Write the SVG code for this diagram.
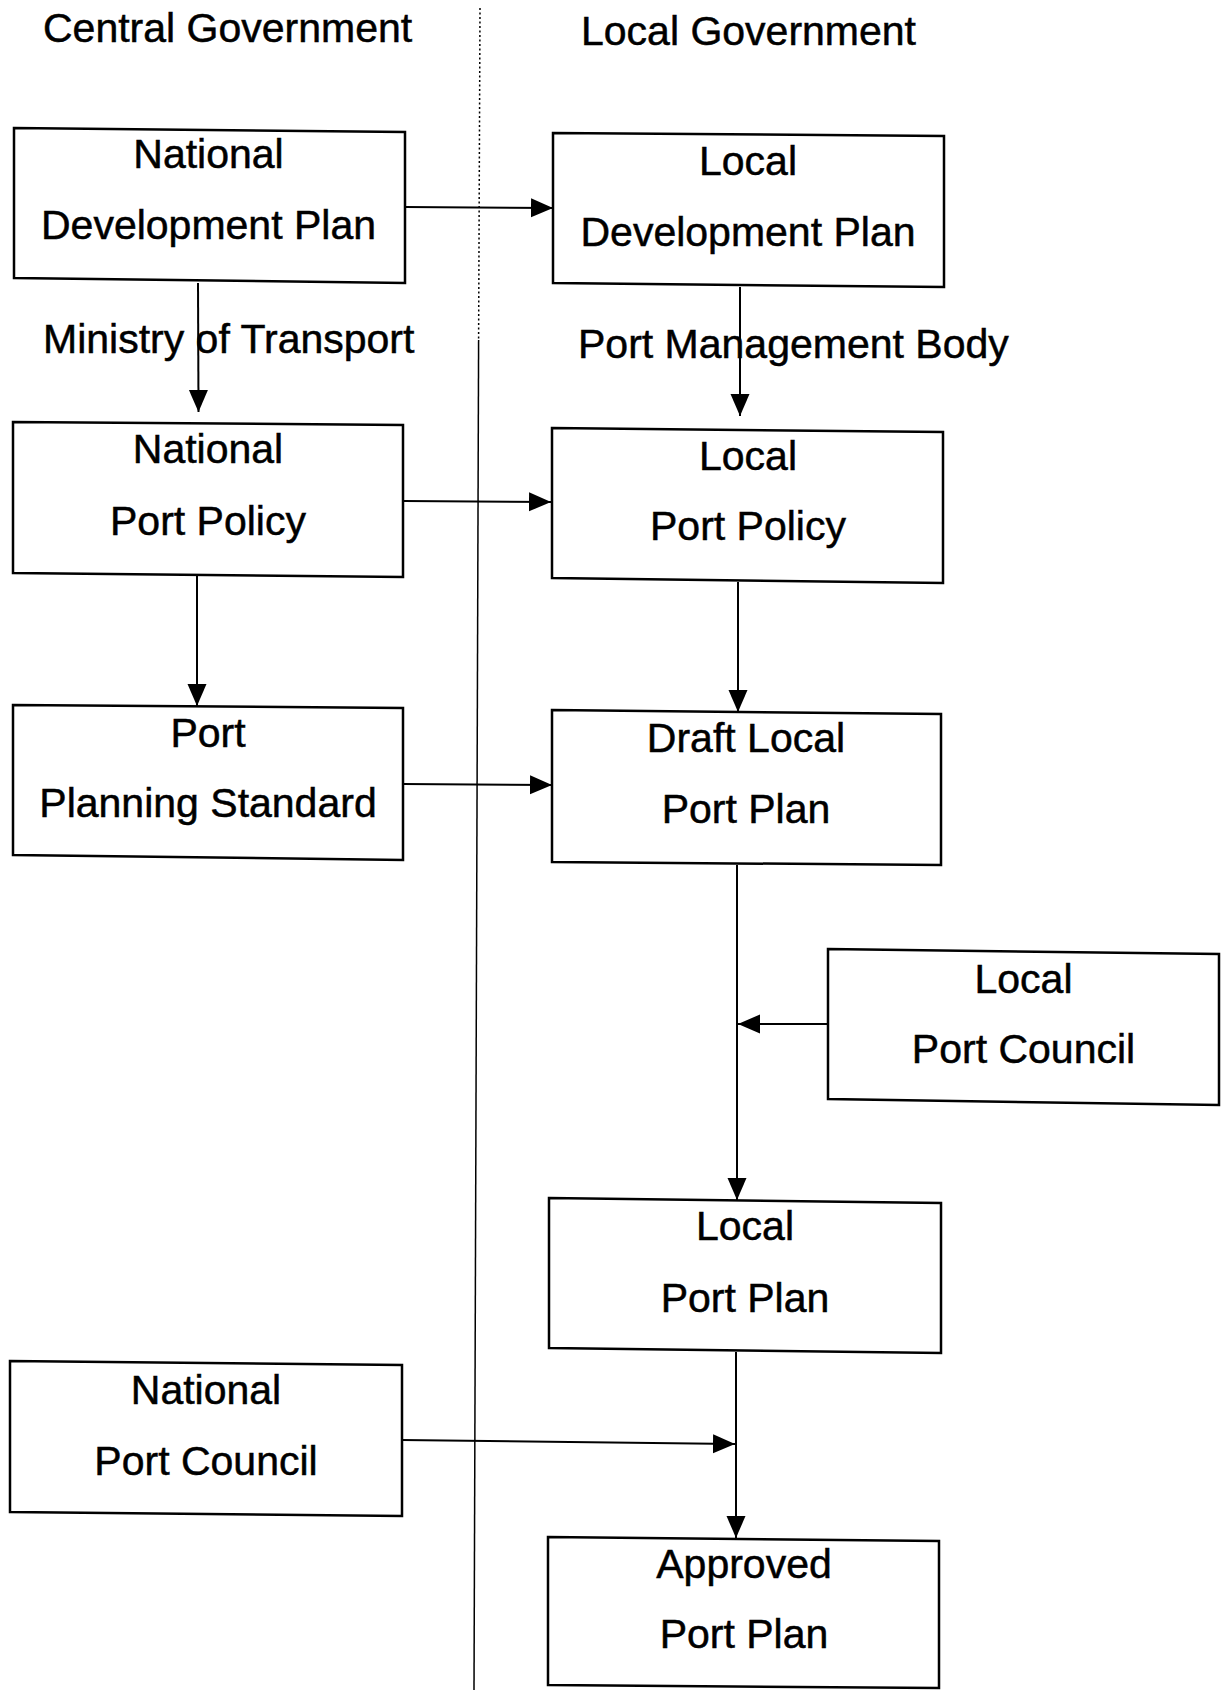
<svg xmlns="http://www.w3.org/2000/svg" width="1222" height="1690" viewBox="0 0 1222 1690">
  <style>
    .box { fill: #ffffff; stroke: #000000; stroke-width: 2.5; }
    .lbl { font-family: "Liberation Sans", Arial, sans-serif; font-size: 41px; fill: #000000; stroke: #000000; stroke-width: 0.5; }
    .mid { text-anchor: middle; }
    .conn { stroke: #000000; stroke-width: 2; fill: none; marker-end: url(#arrow); }
    .divider { stroke: #000000; stroke-width: 1.5; fill: none; }
  </style>
  <defs>
    <marker id="arrow" markerUnits="userSpaceOnUse" markerWidth="23" markerHeight="20" refX="22" refY="9.5" orient="auto">
      <path d="M0,0 L22,9.5 L0,19 Z" fill="#000000"/>
    </marker>
  </defs>

  <rect x="0" y="0" width="1222" height="1690" fill="#ffffff"/>

  <!-- divider between central and local government -->
  <g id="divider">
    <line class="divider" x1="480" y1="8" x2="478.6" y2="340" stroke-dasharray="2 2.5"/>
    <line class="divider" x1="478.6" y1="340" x2="474" y2="1690"/>
  </g>

  <!-- column headings and side labels -->
  <g id="headings">
    <text class="lbl" x="43" y="42">Central Government</text>
    <text class="lbl" x="581" y="45">Local Government</text>
    <text class="lbl" x="43" y="353">Ministry of Transport</text>
    <text class="lbl" x="578" y="358">Port Management Body</text>
  </g>

  <!-- connectors -->
  <g id="connectors">
    <line class="conn" x1="405" y1="207" x2="553" y2="208"/>
    <line class="conn" x1="198" y1="283" x2="198.5" y2="412"/>
    <line class="conn" x1="740" y1="287" x2="740" y2="416"/>
    <line class="conn" x1="404" y1="501" x2="551" y2="502"/>
    <line class="conn" x1="197" y1="575" x2="197" y2="706"/>
    <line class="conn" x1="738" y1="582" x2="738" y2="712"/>
    <line class="conn" x1="403" y1="784" x2="552" y2="785"/>
    <line class="conn" x1="737" y1="865" x2="737" y2="1200"/>
    <line class="conn" x1="828" y1="1024" x2="738" y2="1024"/>
    <line class="conn" x1="736" y1="1352" x2="736" y2="1538"/>
    <line class="conn" x1="402" y1="1440" x2="735" y2="1444"/>
  </g>

  <!-- nodes -->
  <g id="national-development-plan">
    <path class="box" d="M14,128 L405,132 L405,283 L14,278 Z"/>
    <text class="lbl mid" x="208.5" y="168">National</text>
    <text class="lbl mid" x="208.5" y="239">Development Plan</text>
  </g>

  <g id="local-development-plan">
    <path class="box" d="M553,133 L944,136 L944,287 L553,283 Z"/>
    <text class="lbl mid" x="748" y="175">Local</text>
    <text class="lbl mid" x="748" y="246">Development Plan</text>
  </g>

  <g id="national-port-policy">
    <path class="box" d="M13,422 L403,425 L403,577 L13,573 Z"/>
    <text class="lbl mid" x="208" y="463">National</text>
    <text class="lbl mid" x="208" y="535">Port Policy</text>
  </g>

  <g id="local-port-policy">
    <path class="box" d="M552,428 L943,432 L943,583 L552,578 Z"/>
    <text class="lbl mid" x="748" y="470">Local</text>
    <text class="lbl mid" x="748" y="540">Port Policy</text>
  </g>

  <g id="port-planning-standard">
    <path class="box" d="M13,705 L403,708 L403,860 L13,855 Z"/>
    <text class="lbl mid" x="208" y="747">Port</text>
    <text class="lbl mid" x="208" y="817">Planning Standard</text>
  </g>

  <g id="draft-local-port-plan">
    <path class="box" d="M552,710 L941,714 L941,865 L552,862 Z"/>
    <text class="lbl mid" x="746" y="752">Draft Local</text>
    <text class="lbl mid" x="746" y="823">Port Plan</text>
  </g>

  <g id="local-port-council">
    <path class="box" d="M828,949 L1219,954 L1219,1105 L828,1099 Z"/>
    <text class="lbl mid" x="1023.5" y="993">Local</text>
    <text class="lbl mid" x="1023.5" y="1063">Port Council</text>
  </g>

  <g id="local-port-plan">
    <path class="box" d="M549,1198 L941,1203 L941,1353 L549,1348 Z"/>
    <text class="lbl mid" x="745" y="1240">Local</text>
    <text class="lbl mid" x="745" y="1312">Port Plan</text>
  </g>

  <g id="national-port-council">
    <path class="box" d="M10,1361 L402,1365 L402,1516 L10,1512 Z"/>
    <text class="lbl mid" x="206" y="1404">National</text>
    <text class="lbl mid" x="206" y="1475">Port Council</text>
  </g>

  <g id="approved-port-plan">
    <path class="box" d="M548,1537 L939,1541 L939,1688 L548,1685 Z"/>
    <text class="lbl mid" x="744" y="1578">Approved</text>
    <text class="lbl mid" x="744" y="1648">Port Plan</text>
  </g>
</svg>
